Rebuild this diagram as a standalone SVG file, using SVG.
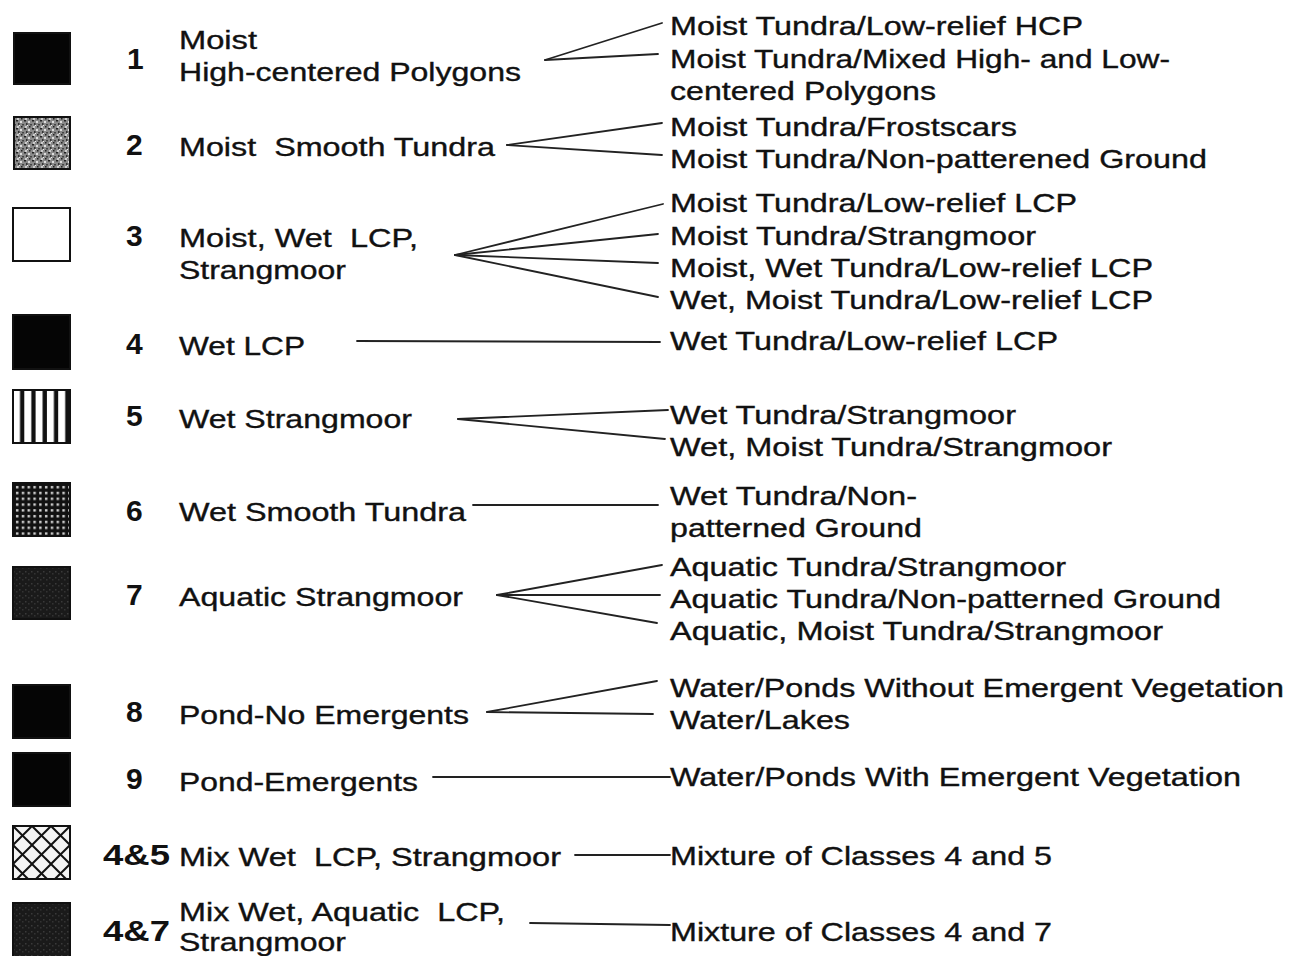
<svg xmlns="http://www.w3.org/2000/svg" width="1290" height="956" viewBox="0 0 1290 956">
<style>
.t{font-family:"Liberation Sans",Arial,sans-serif;font-size:25px;fill:#111;stroke:#111;stroke-width:0.35}
.n{font-family:"Liberation Sans",Arial,sans-serif;font-size:30px;font-weight:bold;fill:#111}
.c line{stroke:#222;stroke-width:1.8;stroke-linecap:round}
.sw{stroke:#111;stroke-width:2}
</style>
<defs>
<pattern id="stip" width="8" height="8" patternUnits="userSpaceOnUse">
<rect width="8" height="8" fill="#8a8a8a"/>
<rect x="0" y="0" width="2" height="1.5" fill="#222"/>
<rect x="4" y="1" width="2" height="2" fill="#ddd"/>
<rect x="2" y="3" width="1.5" height="2" fill="#333"/>
<rect x="6" y="4" width="2" height="1.5" fill="#444"/>
<rect x="1" y="6" width="2" height="2" fill="#ccc"/>
<rect x="5" y="6" width="1.5" height="1.5" fill="#222"/>
<rect x="3" y="5" width="1" height="1" fill="#eee"/>
</pattern>
<pattern id="stripes" x="13" y="0" width="11.3" height="20" patternUnits="userSpaceOnUse">
<rect width="11.3" height="20" fill="#fff"/>
<rect x="7" width="4.6" height="20" fill="#111"/>
</pattern>
<pattern id="dots" x="14" y="484" width="5.8" height="5.8" patternUnits="userSpaceOnUse">
<rect width="5.8" height="5.8" fill="#111"/>
<rect x="2" y="2" width="2.4" height="2.4" fill="#d8d8d8"/>
</pattern>
<pattern id="hatch" x="13" y="826" width="19" height="19" patternUnits="userSpaceOnUse">
<rect width="19" height="19" fill="#f4f4f4"/>
<line x1="0" y1="0" x2="19" y2="19" stroke="#111" stroke-width="2"/>
<line x1="19" y1="0" x2="0" y2="19" stroke="#111" stroke-width="2"/>
</pattern>
<pattern id="dark" width="6" height="6" patternUnits="userSpaceOnUse">
<rect width="6" height="6" fill="#1a1a1a"/>
<rect x="1" y="1" width="1.5" height="1.5" fill="#3a3a3a"/>
<rect x="4" y="3" width="1.5" height="1.5" fill="#333"/>
</pattern>
</defs>
<rect width="1290" height="956" fill="#fff"/>

<g id="class-1">
<rect class="sw" x="14" y="33" width="56" height="51" fill="#050505"/>
<text class="n" x="127" y="69">1</text>
<text class="t" x="179" y="49" textLength="78" lengthAdjust="spacingAndGlyphs">Moist</text>
<text class="t" x="179" y="81" textLength="342" lengthAdjust="spacingAndGlyphs">High-centered Polygons</text>
</g>
<g id="class-2">
<rect class="sw" x="14" y="117" width="56" height="52" fill="url(#stip)"/>
<text class="n" x="126" y="155">2</text>
<text class="t" x="179" y="156" textLength="316" lengthAdjust="spacingAndGlyphs" xml:space="preserve">Moist  Smooth Tundra</text>
</g>
<g id="class-3">
<rect class="sw" x="13" y="208" width="57" height="53" fill="#fff"/>
<text class="n" x="126" y="246">3</text>
<text class="t" x="179" y="247" textLength="239" lengthAdjust="spacingAndGlyphs" xml:space="preserve">Moist, Wet  LCP,</text>
<text class="t" x="179" y="279" textLength="167" lengthAdjust="spacingAndGlyphs">Strangmoor</text>
</g>
<g id="class-4">
<rect class="sw" x="13" y="315" width="57" height="54" fill="#050505"/>
<text class="n" x="126" y="354">4</text>
<text class="t" x="179" y="355" textLength="126" lengthAdjust="spacingAndGlyphs">Wet LCP</text>
</g>
<g id="class-5">
<rect class="sw" x="13" y="390" width="57" height="53" fill="url(#stripes)"/>
<text class="n" x="126" y="426">5</text>
<text class="t" x="179" y="428" textLength="233" lengthAdjust="spacingAndGlyphs">Wet Strangmoor</text>
</g>
<g id="class-6">
<rect class="sw" x="13" y="483" width="57" height="53" fill="url(#dots)"/>
<text class="n" x="126" y="521">6</text>
<text class="t" x="179" y="521" textLength="287" lengthAdjust="spacingAndGlyphs">Wet Smooth Tundra</text>
</g>
<g id="class-7">
<rect class="sw" x="13" y="567" width="57" height="52" fill="url(#dark)"/>
<text class="n" x="126" y="605">7</text>
<text class="t" x="179" y="606" textLength="284" lengthAdjust="spacingAndGlyphs">Aquatic Strangmoor</text>
</g>
<g id="class-8">
<rect class="sw" x="13" y="685" width="57" height="53" fill="#050505"/>
<text class="n" x="126" y="722">8</text>
<text class="t" x="179" y="724" textLength="290" lengthAdjust="spacingAndGlyphs">Pond-No Emergents</text>
</g>
<g id="class-9">
<rect class="sw" x="13" y="753" width="57" height="53" fill="#050505"/>
<text class="n" x="126" y="789">9</text>
<text class="t" x="179" y="791" textLength="239" lengthAdjust="spacingAndGlyphs">Pond-Emergents</text>
</g>
<g id="class-4and5">
<rect class="sw" x="13" y="826" width="57" height="53" fill="url(#hatch)"/>
<text class="n" x="103" y="865" textLength="67" lengthAdjust="spacingAndGlyphs">4&amp;5</text>
<text class="t" x="179" y="866" textLength="382" lengthAdjust="spacingAndGlyphs" xml:space="preserve">Mix Wet  LCP, Strangmoor</text>
</g>
<g id="class-4and7">
<rect class="sw" x="13" y="903" width="57" height="60" fill="url(#dark)"/>
<text class="n" x="103" y="941" textLength="67" lengthAdjust="spacingAndGlyphs">4&amp;7</text>
<text class="t" x="179" y="921" textLength="326" lengthAdjust="spacingAndGlyphs" xml:space="preserve">Mix Wet, Aquatic  LCP,</text>
<text class="t" x="179" y="951" textLength="167" lengthAdjust="spacingAndGlyphs">Strangmoor</text>
</g>

<g id="targets">
<text class="t" x="670" y="35" textLength="413" lengthAdjust="spacingAndGlyphs">Moist Tundra/Low-relief HCP</text>
<text class="t" x="670" y="68" textLength="500" lengthAdjust="spacingAndGlyphs">Moist Tundra/Mixed High- and Low-</text>
<text class="t" x="670" y="100" textLength="266" lengthAdjust="spacingAndGlyphs">centered Polygons</text>
<text class="t" x="670" y="136" textLength="347" lengthAdjust="spacingAndGlyphs">Moist Tundra/Frostscars</text>
<text class="t" x="670" y="168" textLength="537" lengthAdjust="spacingAndGlyphs">Moist Tundra/Non-patterened Ground</text>
<text class="t" x="670" y="212" textLength="407" lengthAdjust="spacingAndGlyphs">Moist Tundra/Low-relief LCP</text>
<text class="t" x="670" y="245" textLength="366" lengthAdjust="spacingAndGlyphs">Moist Tundra/Strangmoor</text>
<text class="t" x="670" y="277" textLength="483" lengthAdjust="spacingAndGlyphs">Moist, Wet Tundra/Low-relief LCP</text>
<text class="t" x="670" y="309" textLength="483" lengthAdjust="spacingAndGlyphs">Wet, Moist Tundra/Low-relief LCP</text>
<text class="t" x="670" y="350" textLength="388" lengthAdjust="spacingAndGlyphs">Wet Tundra/Low-relief LCP</text>
<text class="t" x="670" y="424" textLength="346" lengthAdjust="spacingAndGlyphs">Wet Tundra/Strangmoor</text>
<text class="t" x="670" y="456" textLength="442" lengthAdjust="spacingAndGlyphs">Wet, Moist Tundra/Strangmoor</text>
<text class="t" x="670" y="505" textLength="247" lengthAdjust="spacingAndGlyphs">Wet Tundra/Non-</text>
<text class="t" x="670" y="537" textLength="252" lengthAdjust="spacingAndGlyphs">patterned Ground</text>
<text class="t" x="670" y="576" textLength="396" lengthAdjust="spacingAndGlyphs">Aquatic Tundra/Strangmoor</text>
<text class="t" x="670" y="608" textLength="551" lengthAdjust="spacingAndGlyphs">Aquatic Tundra/Non-patterned Ground</text>
<text class="t" x="670" y="640" textLength="493" lengthAdjust="spacingAndGlyphs">Aquatic, Moist Tundra/Strangmoor</text>
<text class="t" x="670" y="697" textLength="614" lengthAdjust="spacingAndGlyphs">Water/Ponds Without Emergent Vegetation</text>
<text class="t" x="670" y="729" textLength="180" lengthAdjust="spacingAndGlyphs">Water/Lakes</text>
<text class="t" x="670" y="786" textLength="571" lengthAdjust="spacingAndGlyphs">Water/Ponds With Emergent Vegetation</text>
<text class="t" x="670" y="865" textLength="382" lengthAdjust="spacingAndGlyphs">Mixture of Classes 4 and 5</text>
<text class="t" x="670" y="941" textLength="382" lengthAdjust="spacingAndGlyphs">Mixture of Classes 4 and 7</text>
</g>

<g id="connectors" class="c">
<line x1="545" y1="60" x2="662" y2="23"/>
<line x1="545" y1="60" x2="658" y2="54"/>
<line x1="507" y1="145" x2="662" y2="123"/>
<line x1="507" y1="145" x2="662" y2="155"/>
<line x1="455" y1="255" x2="663" y2="204"/>
<line x1="455" y1="255" x2="658" y2="234"/>
<line x1="455" y1="255" x2="658" y2="263"/>
<line x1="455" y1="255" x2="658" y2="297"/>
<line x1="357" y1="341" x2="660" y2="342"/>
<line x1="458" y1="419" x2="668" y2="410"/>
<line x1="458" y1="419" x2="665" y2="439"/>
<line x1="473" y1="505" x2="658" y2="505"/>
<line x1="497" y1="595" x2="662" y2="565"/>
<line x1="497" y1="595" x2="660" y2="595"/>
<line x1="497" y1="595" x2="657" y2="623"/>
<line x1="487" y1="712" x2="657" y2="681"/>
<line x1="487" y1="712" x2="653" y2="714"/>
<line x1="433" y1="777" x2="670" y2="777"/>
<line x1="575" y1="855" x2="670" y2="855"/>
<line x1="530" y1="923" x2="670" y2="925"/>
</g>
</svg>
